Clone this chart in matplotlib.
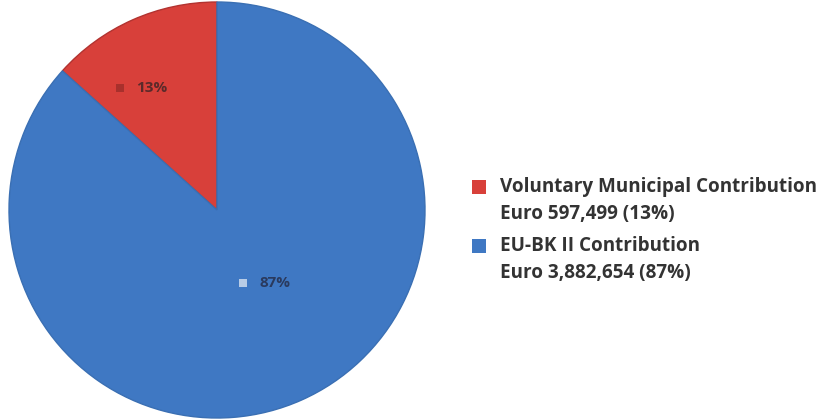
import numpy as np
import matplotlib
matplotlib.use("Agg")
import matplotlib.pyplot as plt
from matplotlib.patches import Rectangle

labels = ["Voluntary Municipal Contribution", "EU-BK II Contribution"]
amounts = [597499, 3882654]
pct_labels = ["13%", "87%"]
amount_text = ["Euro 597,499 (13%)", "Euro 3,882,654 (87%)"]
colors = ["#d8403a", "#3f78c3"]
edge_colors = ["#b23330", "#3a6fb3"]
marker_colors = ["#a8302c", "#b8cce6"]
pct_text_colors = ["#5a2a2a", "#2a3a5e"]

W, H = 838, 420
fig = plt.figure(figsize=(W / 100, H / 100), dpi=100)
cx, cy, r = 217, 210, 208
ax = fig.add_axes([(cx - r) / W, (cy - r) / H, 2 * r / W, 2 * r / H])
wedges, _ = ax.pie(amounts, colors=colors, startangle=90, counterclock=True,
                   radius=1.0, wedgeprops=dict(linewidth=1.0))
for w, ec in zip(wedges, edge_colors):
    w.set_edgecolor(ec)
ax.set_xlim(-1, 1)
ax.set_ylim(-1, 1)
ax.set_aspect("equal")

label_r = [0.665, 0.448]
angle_shift = [4, 14.5]
for w, t, lr, sh, mc, tc in zip(wedges, pct_labels, label_r, angle_shift,
                                marker_colors, pct_text_colors):
    ang = np.deg2rad((w.theta1 + w.theta2) / 2 + sh)
    x, y = lr * np.cos(ang), lr * np.sin(ang)
    ax.text(x, y, t, ha="center", va="center", fontsize=11,
            fontweight="bold", color=tc, family="Open Sans")
    s = 0.04
    ax.add_patch(Rectangle((x - 0.154 - s / 2, y - s / 2), s, s,
                           facecolor=mc, edgecolor="none"))

# Legend
sq_x, text_x = 472, 500
ys = [187, 246]
for lab, amt, c, y in zip(labels, amount_text, colors, ys):
    fig.patches.append(Rectangle((sq_x / W, 1 - (y + 7) / H), 14 / W, 14 / H,
                                 facecolor=c, edgecolor="none",
                                 transform=fig.transFigure, figure=fig))
    fig.text(text_x / W, 1 - y / H, lab, ha="left", va="center",
             fontsize=13.6, fontweight="bold", color="#333333", family="Open Sans")
    fig.text(text_x / W, 1 - (y + 27) / H, amt, ha="left", va="center",
             fontsize=13.6, fontweight="bold", color="#333333", family="Open Sans")

fig.savefig("out.png", dpi=100, facecolor="white")
